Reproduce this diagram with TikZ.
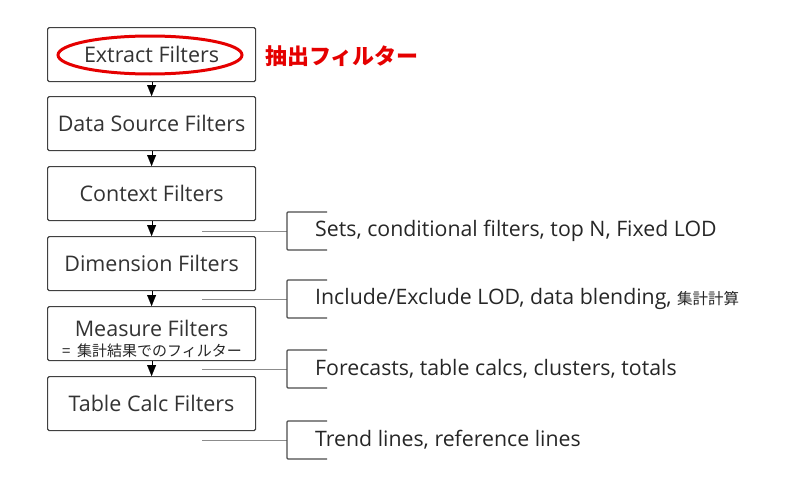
\documentclass[tikz,border=0pt]{standalone}
\usepackage{fontspec}
\setmainfont{Open Sans}
\newfontfamily\cjk{Noto Sans CJK JP}
\usetikzlibrary{arrows.meta}
\begin{document}
\begin{tikzpicture}[x=1pt,y=-1pt,
  fbox/.style={draw=black!75,line width=1.2pt,rounded corners=1.5pt,minimum width=208pt,minimum height=54pt,anchor=north west,inner sep=0pt,text=black!80,font=\fontsize{21.5}{24}\selectfont},
  flow/.style={line width=0.1pt,-{Triangle[length=11pt,width=9pt]}},
  note/.style={anchor=west,text=black!85,font=\fontsize{21.3}{24}\selectfont,inner sep=0pt},
  link/.style={draw=black!45,line width=1pt},
  brk/.style={draw=black!70,line width=1.2pt,rounded corners=1pt}]
\useasboundingbox (0,0) rectangle (800,479);
\node[fbox] (b1) at (47,27) {Extract Filters};
\node[fbox] (b2) at (47,96) {Data Source Filters};
\node[fbox] (b3) at (47,166) {Context Filters};
\node[fbox] (b4) at (47,236) {Dimension Filters};
\node[fbox,text depth=10pt] (b5) at (47,306) {Measure Filters};
\node[fbox] (b6) at (47,376) {Table Calc Filters};
\node[font=\cjk\fontsize{15}{16}\selectfont,text=black!85,inner sep=0pt] (jp) at (152,351) {=\ \ 集計結果でのフィルター};
\draw[red!90!black,line width=3pt] (150,55) ellipse (92pt and 19pt);
\node[anchor=west,text=red!90!black,font=\cjk\bfseries\fontsize{22}{24}\selectfont,inner sep=0pt] (jt) at (265,56) {抽出フィルター};
\foreach \a/\b in {b1/b2,b2/b3,b3/b4,b4/b5,b5/b6}
  \draw[flow] (\a.south) -- (\b.north);
\foreach \i/\y/\t in {1/231/{Sets, conditional filters, top N, Fixed LOD},
  2/299/{Include/Exclude LOD, data blending, {\cjk\fontsize{15.5}{18}\selectfont 集計計算}},
  3/369/{Forecasts, table calcs, clusters, totals},
  4/440/{Trend lines, reference lines}}{
  \node[note] (n\i) at (315,\y) {\t};
  \coordinate (s\i) at (202,\y);
  \coordinate (k\i) at (287,\y);
  \draw[link] (s\i) -- (k\i);
  \draw[brk] ([xshift=40pt,yshift=-19pt]k\i) -| ([yshift=19pt]k\i) -- ([xshift=40pt,yshift=19pt]k\i);
}
\end{tikzpicture}
\end{document}
